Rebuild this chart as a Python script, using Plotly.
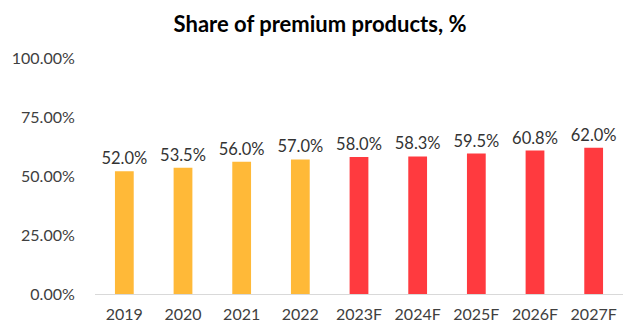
import plotly.graph_objects as go

categories = ["2019", "2020", "2021", "2022", "2023F", "2024F", "2025F", "2026F", "2027F"]
values = [0.520, 0.535, 0.560, 0.570, 0.580, 0.583, 0.595, 0.608, 0.620]
colors = ["#FFB938"] * 4 + ["#FF3A3F"] * 5
y_ticks = [0, 0.25, 0.5, 0.75, 1.0]

fig = go.Figure(go.Bar(
    x=categories, y=values,
    marker=dict(color=colors, line=dict(width=0)),
    width=0.32,
    text=[f"{v*100:.1f}%" for v in values],
    textposition="outside",
    constraintext="none",
    textfont=dict(family="Lato", size=16.5, color="#333333"),
    cliponaxis=False,
))

fig.update_layout(
    width=640, height=336,
    margin=dict(l=89, r=17, t=58, b=42),
    paper_bgcolor="white", plot_bgcolor="white",
    title=dict(text="<b>Share of premium products, %</b>", x=0.5, xanchor="center",
               y=0.928, yanchor="middle",
               font=dict(family="Lato", size=22, color="#000000")),
    showlegend=False,
    font=dict(family="Lato", size=16, color="#404040"),
)
fig.update_xaxes(showline=True, linecolor="#D9D9D9", linewidth=1, showgrid=False,
                 ticks="outside", ticklen=6, tickcolor="rgba(0,0,0,0)",
                 tickfont=dict(family="Lato", size=16, color="#404040"))
fig.update_yaxes(range=[0, 1.0], tickvals=y_ticks, tickformat=".2%", showgrid=False,
                 showline=False, zeroline=False, ticks="outside", ticklen=16,
                 tickcolor="rgba(0,0,0,0)",
                 tickfont=dict(family="Lato", size=16, color="#404040"))

fig.write_html("out.html")
